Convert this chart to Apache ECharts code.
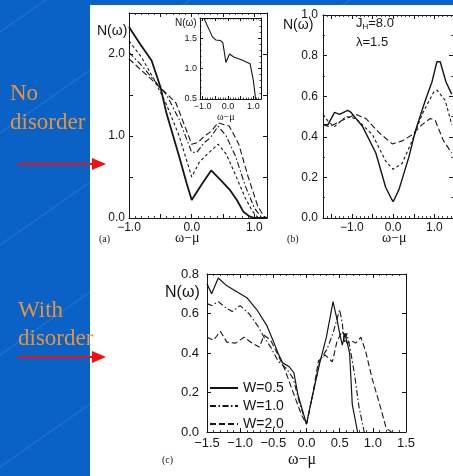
<!DOCTYPE html>
<html>
<head>
<meta charset="utf-8">
<script src="https://cdn.jsdelivr.net/npm/echarts@6/dist/echarts.min.js"></script>
<style>
html,body{margin:0;padding:0;background:#0A62C6;}
#chart{width:453px;height:476px;}
</style>
</head>
<body>
<div id="chart"></div>
<script>
// ---- Panel (a): N(omega) without disorder, four curves ----
const aSolid = [[-1.0,2.33],[-0.82,2.12],[-0.64,1.92],[-0.5,1.6],[-0.4,1.27],[-0.2,0.75],[-0.08,0.42],[0.0,0.22],[0.15,0.4],[0.31,0.58],[0.45,0.47],[0.6,0.35],[0.72,0.22],[0.82,0.08],[0.92,0.02],[1.0,0.0],[1.2,0.0]];
const aShort = [[-1.0,2.16],[-0.8,1.96],[-0.6,1.69],[-0.4,1.38],[-0.2,1.0],[-0.1,0.75],[0.0,0.5],[0.12,0.68],[0.25,0.78],[0.42,0.9],[0.55,0.78],[0.7,0.52],[0.85,0.25],[0.97,0.08],[1.05,0.01],[1.2,0.0]];
const aDashDot = [[-1.0,2.02],[-0.8,1.86],[-0.6,1.68],[-0.4,1.5],[-0.2,1.2],[-0.05,0.9],[0.0,0.8],[0.08,0.8],[0.2,0.92],[0.3,0.98],[0.42,1.12],[0.55,1.0],[0.7,0.75],[0.85,0.4],[1.0,0.12],[1.1,0.02],[1.2,0.0]];
const aLong = [[-1.0,1.94],[-0.8,1.8],[-0.6,1.66],[-0.4,1.52],[-0.25,1.4],[-0.1,1.1],[0.0,0.9],[0.1,0.92],[0.2,1.0],[0.3,1.05],[0.42,1.16],[0.6,1.12],[0.75,0.9],[0.9,0.5],[1.05,0.15],[1.15,0.02],[1.2,0.0]];
// inset of panel (a)
const aInset = [[-0.94,1.82],[-0.61,1.52],[-0.48,1.47],[-0.29,1.46],[-0.2,1.42],[-0.08,1.1],[0.06,1.24],[0.23,1.19],[0.55,1.14],[0.87,1.08],[1.0,0.8],[1.09,0.49]];

// ---- Panel (b): J_H = 8.0, lambda = 1.5 ----
const bSolid = [[-1.7,0.46],[-1.58,0.46],[-1.42,0.52],[-1.3,0.51],[-1.1,0.53],[-1.02,0.52],[-0.74,0.45],[-0.42,0.32],[-0.18,0.15],[-0.03,0.09],[0.0,0.08],[0.14,0.14],[0.38,0.3],[0.54,0.43],[0.78,0.58],[0.94,0.67],[1.06,0.77],[1.14,0.77],[1.28,0.67],[1.42,0.61]];
const bShort = [[-1.7,0.51],[-1.55,0.47],[-1.42,0.45],[-1.14,0.5],[-0.9,0.49],[-0.5,0.41],[-0.18,0.28],[0.0,0.24],[0.22,0.27],[0.46,0.38],[0.7,0.51],[0.98,0.62],[1.06,0.63],[1.26,0.58],[1.42,0.46]];
const bLong = [[-1.7,0.46],[-1.54,0.45],[-1.14,0.49],[-0.9,0.51],[-0.66,0.49],[-0.34,0.42],[-0.02,0.365],[0.22,0.38],[0.46,0.41],[0.7,0.46],[0.9,0.49],[1.02,0.48],[1.22,0.38],[1.42,0.32]];

// ---- Panel (c): with disorder W ----
const cNames = ['W=0.5','W=1.0','W=2.0'];
const cW05 = [[-1.5,0.75],[-1.43,0.7],[-1.33,0.78],[-1.2,0.74],[-1.05,0.71],[-0.9,0.68],[-0.75,0.62],[-0.6,0.54],[-0.5,0.46],[-0.43,0.4],[-0.36,0.35],[-0.26,0.33],[-0.19,0.3],[-0.13,0.19],[0.0,0.04],[0.1,0.2],[0.2,0.35],[0.3,0.48],[0.4,0.66],[0.46,0.57],[0.5,0.5],[0.54,0.44],[0.58,0.5],[0.61,0.49],[0.65,0.4],[0.69,0.14],[0.77,0.0]];
const cW10 = [[-1.5,0.65],[-1.43,0.64],[-1.33,0.66],[-1.22,0.63],[-1.12,0.61],[-1.0,0.64],[-0.87,0.6],[-0.74,0.54],[-0.64,0.48],[-0.54,0.43],[-0.43,0.36],[-0.3,0.32],[-0.2,0.27],[-0.1,0.14],[0.0,0.04],[0.1,0.2],[0.2,0.36],[0.31,0.42],[0.4,0.5],[0.5,0.62],[0.54,0.55],[0.57,0.45],[0.61,0.5],[0.66,0.42],[0.72,0.3],[0.79,0.13],[0.87,0.0]];
const cW20 = [[-1.5,0.48],[-1.4,0.465],[-1.3,0.51],[-1.2,0.455],[-1.07,0.45],[-0.94,0.48],[-0.82,0.45],[-0.71,0.43],[-0.64,0.49],[-0.54,0.465],[-0.43,0.39],[-0.33,0.32],[-0.2,0.2],[-0.08,0.09],[0.0,0.04],[0.1,0.2],[0.18,0.36],[0.28,0.39],[0.39,0.355],[0.46,0.46],[0.54,0.51],[0.61,0.45],[0.69,0.46],[0.74,0.45],[0.82,0.48],[0.89,0.41],[0.99,0.27],[1.12,0.12],[1.2,0.02],[1.28,0.0]];

// tick / label positions per panel
const aXLabels = [-1, 0, 1], aYLabels = [0, 1, 2];
const insetXLabels = [-1, 0, 1], insetYLabels = [0.5, 1.0, 1.5];
const bXLabels = [-1, 0, 1], bYLabels = [0, 0.2, 0.4, 0.6, 0.8, 1.0];
const cXLabels = [-1.5, -1.0, -0.5, 0, 0.5, 1.0, 1.5], cYLabels = [0, 0.2, 0.4, 0.6, 0.8];

const INK = '#151515';
const SANS = 'Liberation Sans, Arial, sans-serif';
const SERIF = 'Liberation Serif, Times New Roman, serif';

function steps(lo, hi, step) {
  const out = [];
  for (let v = lo; v <= hi + 1e-9; v += step) out.push(Math.round(v * 1000) / 1000);
  return out;
}
const fmt = v => v.toFixed(1).replace('-', '\u2212');

const xAxes = [], yAxes = [];
// Boxed frame: labelled bottom/left axes, tick-only top/right axes, plus minor tick rows
function frame(gi, o) {
  const line = { show: true, onZero: false, lineStyle: { color: INK, width: 1 } };
  const noLine = { show: false, onZero: false };
  const mk = (pos, major, minor, labels, isX, showLine) => {
    const base = {
      gridIndex: gi, type: 'value', min: isX ? o.xMin : o.yMin, max: isX ? o.xMax : o.yMax,
      position: pos, splitLine: { show: false }
    };
    const mainAxis = Object.assign({}, base, {
      axisLine: showLine ? line : noLine,
      axisTick: { show: true, inside: true, length: o.tick, customValues: major, lineStyle: { color: INK, width: 1 } },
      axisLabel: labels ? { show: true, customValues: labels, formatter: fmt, fontSize: o.fs, color: INK, fontFamily: SANS, margin: isX ? o.xMargin : o.yMargin } : { show: false }
    });
    const minorAxis = Object.assign({}, base, {
      axisLine: noLine,
      axisTick: { show: true, inside: true, length: o.minorTick, customValues: minor, lineStyle: { color: INK, width: 0.8 } },
      axisLabel: { show: false }
    });
    return [mainAxis, minorAxis];
  };
  const xi = xAxes.length, yi = yAxes.length;
  xAxes.push(...mk('bottom', o.xMajor, o.xMinor, o.xLabels, true, true));
  xAxes.push(...mk('top', o.xMajor, o.xMinor, null, true, true));
  yAxes.push(...mk('left', o.yMajor, o.yMinor, o.yLabels, false, true));
  yAxes.push(...mk('right', o.yMajor, o.yMinor, null, false, o.rightLine !== false));
  return { xi, yi };
}

const grids = [
  { left: 129, top: 13, width: 138, height: 205 },   // (a)
  { left: 200, top: 18, width: 61, height: 81 },     // inset
  { left: 323, top: 15, width: 132, height: 203 },   // (b)
  { left: 207, top: 274, width: 199, height: 158 }   // (c)
];

const A = frame(0, { xMin: -1.0, xMax: 1.2, yMin: 0, yMax: 2.5, xMajor: steps(-1, 1, 0.5), xMinor: steps(-1, 1.2, 0.1), xLabels: aXLabels,
  yMajor: steps(0, 2.5, 0.5), yMinor: [], yLabels: aYLabels, fs: 12, tick: 4, minorTick: 2, xMargin: 4, yMargin: 4 });
const I = frame(1, { xMin: -1.1, xMax: 1.3, yMin: 0.5, yMax: 1.83, xMajor: steps(-1, 1, 0.5), xMinor: steps(-1.1, 1.3, 0.1), xLabels: insetXLabels,
  yMajor: steps(0.5, 1.5, 0.5), yMinor: steps(0.5, 1.8, 0.1), yLabels: insetYLabels, fs: 9, tick: 3, minorTick: 1.5, xMargin: 3, yMargin: 3 });
const B = frame(2, { xMin: -1.7, xMax: 1.45, yMin: 0, yMax: 1.0, xMajor: steps(-1.5, 1, 0.5), xMinor: steps(-1.7, 1.4, 0.1), xLabels: bXLabels,
  yMajor: steps(0, 1, 0.2), yMinor: steps(0, 1, 0.1), yLabels: bYLabels, fs: 12, tick: 4, minorTick: 2, xMargin: 4, yMargin: 5, rightLine: false });
const C = frame(3, { xMin: -1.5, xMax: 1.5, yMin: 0, yMax: 0.8, xMajor: steps(-1.5, 1.5, 0.5), xMinor: steps(-1.5, 1.5, 0.1), xLabels: cXLabels,
  yMajor: steps(0, 0.8, 0.2), yMinor: [], yLabels: cYLabels, fs: 13, tick: 4, minorTick: 2, xMargin: 5, yMargin: 8 });

const SOLID = 'solid', SHORT = [3, 2.5], DASHDOT = [6, 2.5, 1.5, 2.5], LONG = [6, 3];
function curve(name, data, ax, type, width) {
  return {
    name, type: 'line', data, xAxisIndex: ax.xi, yAxisIndex: ax.yi, symbol: 'none', silent: true, z: 5,
    lineStyle: { color: INK, width, type }, itemStyle: { color: INK }
  };
}

const series = [
  curve('a1', aSolid, A, SOLID, 1.8),
  curve('a2', aShort, A, SHORT, 1.1),
  curve('a3', aDashDot, A, DASHDOT, 1.1),
  curve('a4', aLong, A, LONG, 1.1),
  curve('inset', aInset, I, SOLID, 1.1),
  curve('b1', bSolid, B, SOLID, 1.4),
  curve('b2', bShort, B, SHORT, 1.1),
  curve('b3', bLong, B, LONG, 1.1),
  curve(cNames[0], cW05, C, SOLID, 1.2),
  curve(cNames[1], cW10, C, DASHDOT, 1.1),
  curve(cNames[2], cW20, C, LONG, 1.1)
];

// slide decoration, panel background, captions
const slideLines = [32, 133, 245, 355, 467].map(b => ({
  type: 'line', z: -20, silent: true,
  shape: { x1: 0, y1: b, x2: 460, y2: b - 322 },
  style: { stroke: 'rgba(170,200,245,0.28)', lineWidth: 0.8 }
}));
const txt = (x, y, text, fs, family, extra) => Object.assign({
  type: 'text', x, y, z: 50, silent: true,
  style: { text, fontSize: fs, fontFamily: family, fill: INK, textVerticalAlign: 'middle' }
}, extra || {});
const arrow = y => ([
  { type: 'line', z: 60, silent: true, shape: { x1: 18, y1: y, x2: 95, y2: y }, style: { stroke: '#F01010', lineWidth: 2.2 } },
  { type: 'polygon', z: 60, silent: true, shape: { points: [[92, y - 6], [106, y], [92, y + 6]] }, style: { fill: '#F01010' } }
]);
const orange = (x, y, text) => ({
  type: 'text', x, y, z: 60, silent: true,
  style: { text, fontSize: 23, fontFamily: SERIF, fill: '#E8943C', textVerticalAlign: 'middle' }
});

const graphic = [
  ...slideLines,
  { type: 'rect', z: -10, silent: true, shape: { x: 90, y: 5, width: 370, height: 480 }, style: { fill: '#ffffff' } },
  orange(10, 94, 'No'), orange(10, 123, 'disorder'),
  orange(18, 311, 'With'), orange(18, 339, 'disorder'),
  ...arrow(164), ...arrow(357),
  // panel (a)
  txt(97, 31, 'N(\u03c9)', 14, SANS),
  txt(99, 239, '(a)', 10, SERIF),
  txt(175, 238, '\u03c9\u2212\u03bc', 14, SERIF),
  txt(175, 23, 'N(\u03c9)', 10, SANS),
  txt(217, 117, '\u03c9\u2212\u03bc', 10, SERIF),
  // panel (b)
  txt(283, 25, 'N(\u03c9)', 14, SANS),
  { type: 'text', x: 356, y: 23, z: 50, silent: true,
    style: { text: 'J{s|H}=8.0', fontSize: 13, fontFamily: SANS, fill: INK, textVerticalAlign: 'middle',
      rich: { s: { fontSize: 8, fontFamily: SANS, fill: INK, padding: [8, 0, 0, 0] } } } },
  txt(356, 42, '\u03bb=1.5', 13, SANS),
  txt(287, 239, '(b)', 10, SERIF),
  txt(382, 238, '\u03c9\u2212\u03bc', 14, SERIF),
  // panel (c)
  txt(165, 293, 'N(\u03c9)', 16, SANS),
  txt(162, 460, '(c)', 10, SERIF),
  txt(288, 460, '\u03c9\u2212\u03bc', 16, SERIF)
];

const chart = echarts.init(document.getElementById('chart'), null, { renderer: 'canvas' });
chart.setOption({
  backgroundColor: '#0A62C6',
  animation: false,
  grid: grids,
  xAxis: xAxes,
  yAxis: yAxes,
  legend: {
    data: cNames, orient: 'vertical', left: 209, top: 381, itemWidth: 28, itemHeight: 10, itemGap: 4, padding: 0,
    itemStyle: { color: 'rgba(0,0,0,0)', borderWidth: 0, opacity: 0 },
    textStyle: { fontSize: 14, fontFamily: SANS, color: INK }, selectedMode: false
  },
  series,
  graphic
});
</script>
</body>
</html>
